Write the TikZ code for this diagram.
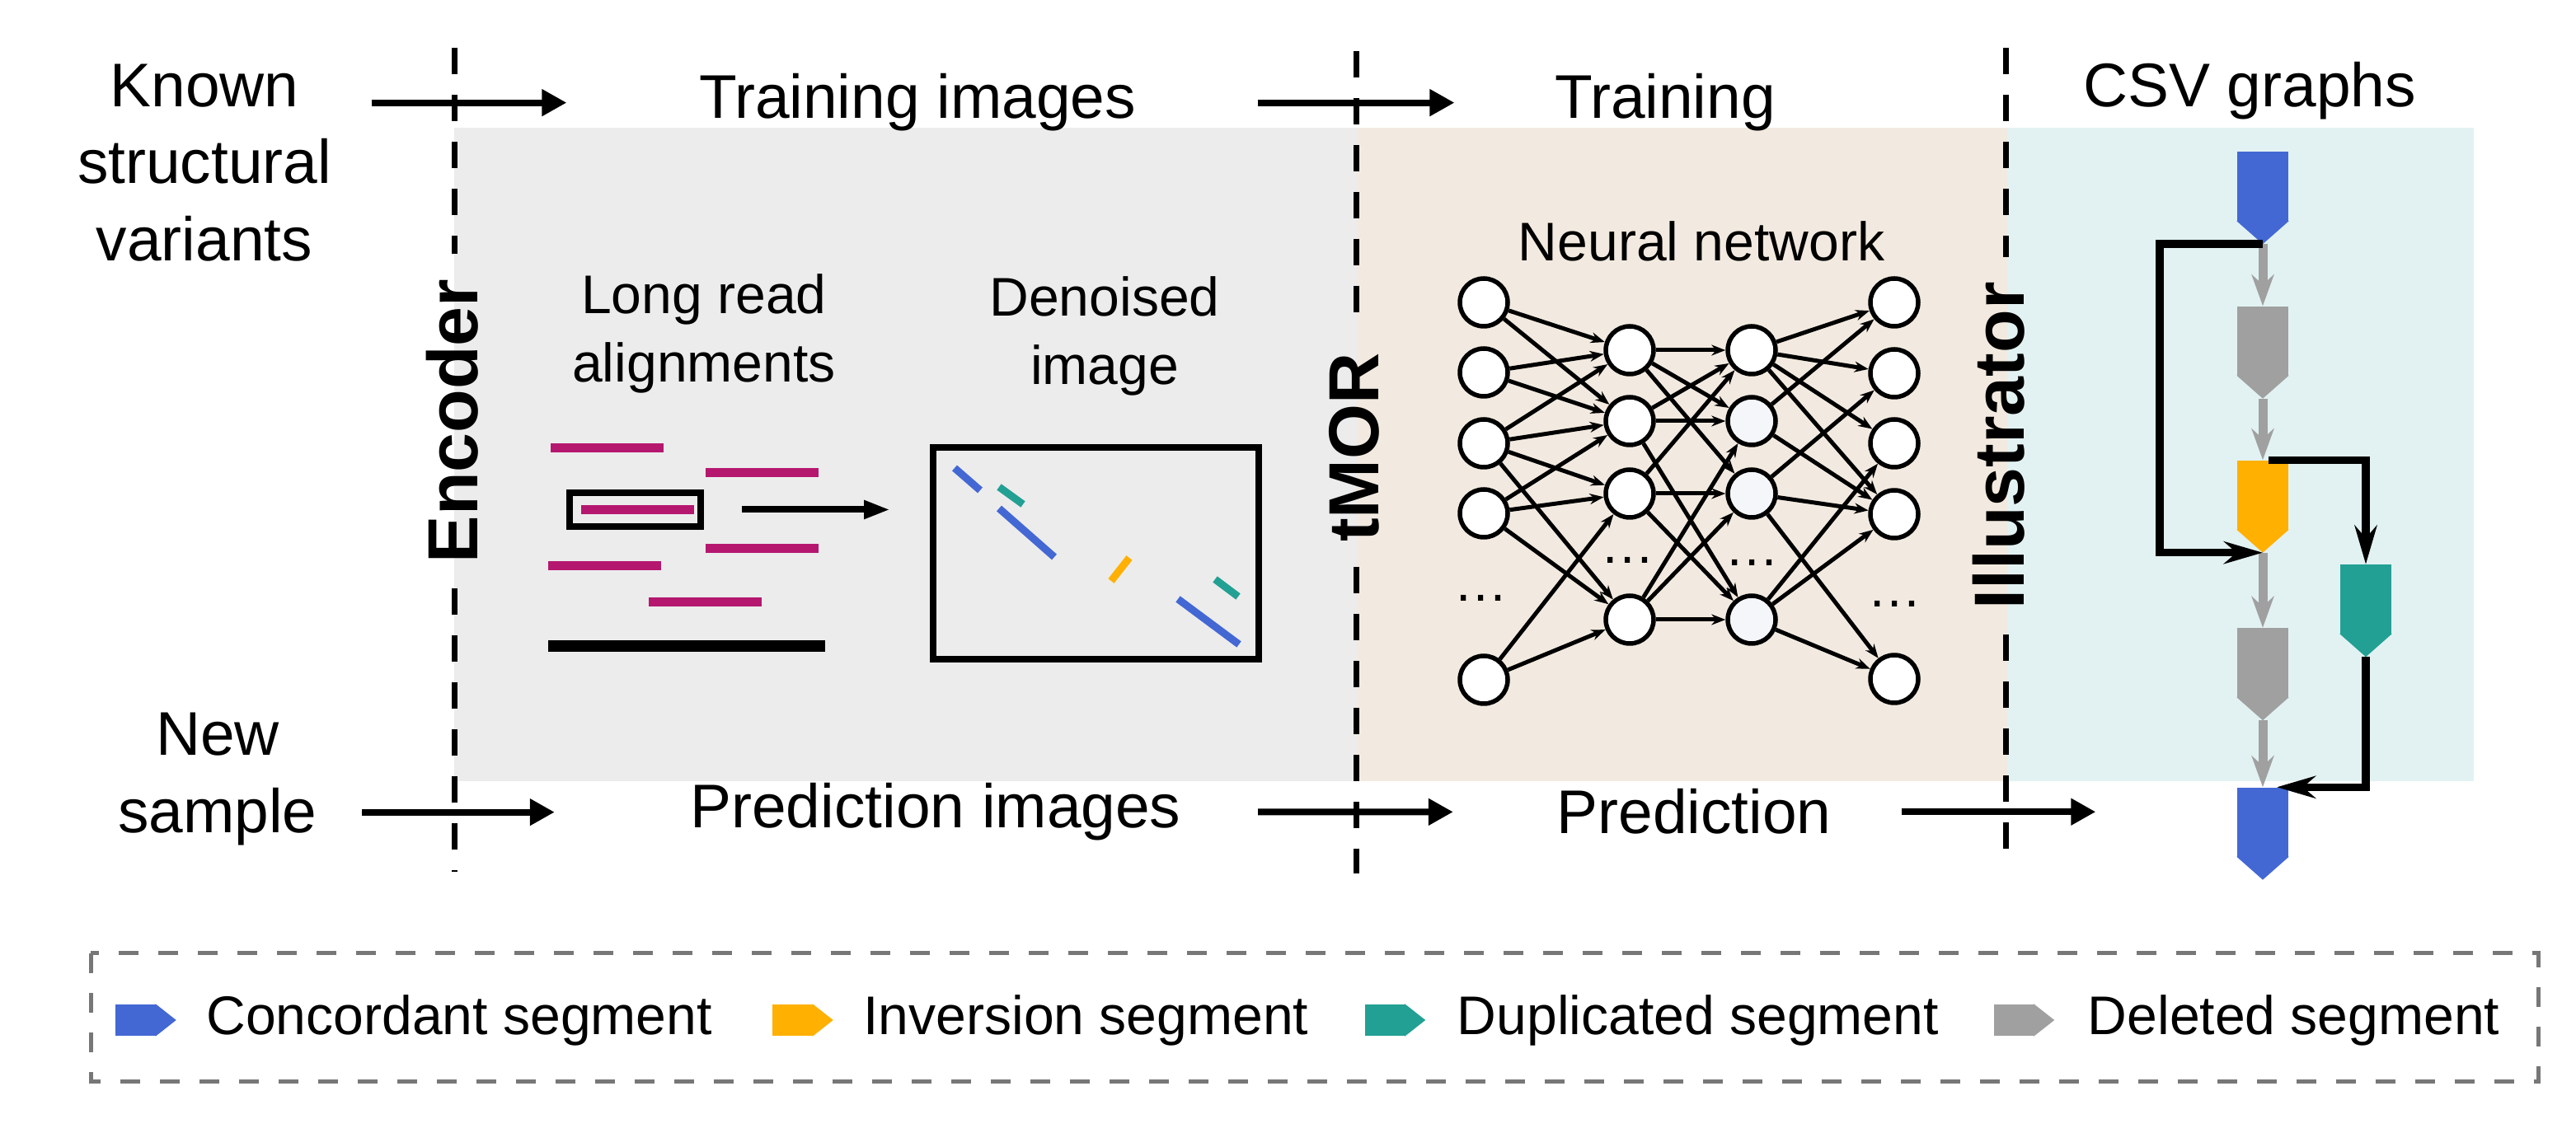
\documentclass[tikz,border=0pt]{standalone}
\usepackage{fontspec}
\setmainfont{Liberation Sans}
\usetikzlibrary{arrows.meta, positioning}

\definecolor{panelgray}{HTML}{ECECEC}
\definecolor{panelbeige}{HTML}{F2EAE0}
\definecolor{panelcyan}{HTML}{E2F2F2}
\definecolor{cblue}{HTML}{4368D4}
\definecolor{corange}{HTML}{FFB000}
\definecolor{cteal}{HTML}{22A094}
\definecolor{cgray}{HTML}{A0A0A0}
\definecolor{readcol}{HTML}{B5176F}
\definecolor{lightnode}{HTML}{F5F6FA}
\definecolor{boxgray}{HTML}{777777}

% segment with a point at the bottom (graph) or at the right (legend)
\newcommand{\segdown}[3]{%
  \node (#1) [segbody, fill=#3] at (#2) {};
  \fill[#3] ([yshift=0.01cm]#1.south west) -- ([yshift=0.01cm]#1.south east) -- ([yshift=-0.27cm]#1.south) -- cycle;
  \coordinate (#1-tip) at ([yshift=-0.27cm]#1.south);}
\newcommand{\segright}[3]{%
  \node (#1) [legbody, fill=#3] at (#2) {};
  \fill[#3] ([xshift=-0.01cm]#1.north east) -- ([xshift=0.24cm]#1.east) -- ([xshift=-0.01cm]#1.south east) -- cycle;
  \coordinate (#1-tip) at ([xshift=0.24cm]#1.east);}

\begin{document}
\begin{tikzpicture}[
  lbl/.style={font=\fontsize{21.3}{26.7}\selectfont, inner sep=0pt, align=center},
  sublbl/.style={font=\fontsize{18.8}{23.6}\selectfont, inner sep=0pt, align=center},
  stage/.style={font=\fontsize{24.5}{29}\selectfont\bfseries, rotate=90, inner sep=0pt, inner xsep=0.3cm},
  divider/.style={line width=0.07cm, dash pattern=on 0.32cm off 0.25cm},
  flow/.style={line width=0.08cm, -{Triangle[length=0.30cm, width=0.31cm]}},
  smallflow/.style={line width=0.08cm, -{Triangle[length=0.32cm, width=0.21cm]}},
  neuron/.style={circle, draw, line width=0.055cm, fill=white, minimum size=0.58cm, inner sep=0pt},
  synapse/.style={line width=0.05cm, -{Stealth[length=0.17cm, width=0.13cm]}},
  segbody/.style={rectangle, inner sep=0pt, minimum width=0.62cm, minimum height=0.84cm},
  legbody/.style={rectangle, inner sep=0pt, minimum width=0.49cm, minimum height=0.38cm},
  csvstep/.style={cgray, line width=0.11cm, -{Stealth[length=0.38cm, width=0.27cm]}},
  csvlink/.style={line width=0.095cm, -{Stealth[length=0.47cm, width=0.27cm]}},
  legtext/.style={font=\fontsize{18.8}{22}\selectfont, inner sep=0pt}]

\useasboundingbox (0,0) rectangle (31.25,-13.75);

% Panels
\fill[panelgray] (5.51,-1.55) rectangle (16.46,-9.48);
\fill[panelbeige] (16.46,-1.55) rectangle (24.35,-9.48);
\fill[panelcyan] (24.35,-1.55) rectangle (30.01,-9.48);

% Labels
\node (known) [lbl] at (2.48,-1.975) {Known\\structural\\variants};
\node (newsample) [lbl] at (2.64,-9.455) {New\\sample};
\node (trainimg) [lbl, anchor=base] at (11.13,-1.44) {Training images};
\node (predimg) [lbl, anchor=base] at (11.35,-10.05) {Prediction images};
\node (training) [lbl, anchor=base] at (20.20,-1.44) {Training};
\node (prediction) [lbl, anchor=base] at (20.55,-10.12) {Prediction};
\node (csv) [lbl, anchor=base] at (27.29,-1.30) {CSV graphs};
\node (longread) [sublbl] at (8.54,-4.045) {Long read\\alignments};
\node (denoised) [sublbl] at (13.40,-4.075) {Denoised\\image};
\node (neural) [sublbl, anchor=base] at (20.64,-3.17) {Neural network};

% Stages
\node (enc) [stage] at (5.49,-5.11) {Encoder};
\node (tmor) [stage] at (16.43,-5.43) {tMOR};
\node (illus) [stage] at (24.25,-5.41) {Illustrator};
\coordinate (encTop) at (5.51,-0.58);
\coordinate (encBot) at (5.51,-10.58);
\coordinate (tmorTop) at (16.45,-0.62);
\coordinate (tmorBot) at (16.45,-10.60);
\coordinate (illusTop) at (24.33,-0.58);
\coordinate (illusBot) at (24.33,-10.40);

\draw[divider] (encTop) -- (encTop |- enc.east);
\draw[divider] (encTop |- enc.west) -- (encBot);
\draw[divider] (tmorTop) -- (tmorTop |- tmor.east);
\draw[divider] (tmorTop |- tmor.west) -- (tmorBot);
\draw[divider] (illusTop) -- (illusTop |- illus.east);
\draw[divider] (illusTop |- illus.west) -- (illusBot);

% Encoder
\fill[readcol] (6.68,-5.38) rectangle ++(1.37,-0.11);
\fill[readcol] (8.56,-5.68) rectangle ++(1.37,-0.11);
\fill[readcol] (7.05,-6.13) rectangle ++(1.37,-0.11);
\fill[readcol] (8.56,-6.60) rectangle ++(1.37,-0.11);
\fill[readcol] (6.65,-6.81) rectangle ++(1.37,-0.11);
\fill[readcol] (7.87,-7.25) rectangle ++(1.37,-0.11);
\fill (6.65,-7.77) rectangle (10.01,-7.91);

\node (sel) [draw, line width=0.075cm, minimum width=1.59cm, minimum height=0.41cm, inner sep=0pt] at (7.705,-6.185) {};
\node (dimg) [draw, line width=0.08cm, minimum width=3.95cm, minimum height=2.57cm, inner sep=0pt] at (13.295,-6.715) {};
\draw[smallflow, shorten <=0.46cm, shorten >=0.48cm] (sel) -- (sel -| dimg.west);

\draw[cblue, line width=0.09cm] (11.58,-5.68) -- (11.89,-5.95);
\draw[cteal, line width=0.09cm] (12.12,-5.91) -- (12.41,-6.12);
\draw[cblue, line width=0.09cm] (12.12,-6.17) -- (12.79,-6.76);
\draw[corange, line width=0.09cm] (13.48,-7.05) -- (13.70,-6.77);
\draw[cteal, line width=0.09cm] (14.74,-7.03) -- (15.02,-7.24);
\draw[cblue, line width=0.09cm] (14.29,-7.27) -- (15.03,-7.82);

% Neural network
\node (i1) [neuron] at (18.00,-3.67) {};
\node (i2) [neuron] at (18.00,-4.52) {};
\node (i3) [neuron] at (18.00,-5.38) {};
\node (i4) [neuron] at (18.00,-6.23) {};
\node (i5) [neuron] at (18.00,-8.25) {};
\node (h1) [neuron] at (19.77,-4.25) {};
\node (h2) [neuron] at (19.77,-5.11) {};
\node (h3) [neuron] at (19.77,-5.99) {};
\node (h4) [neuron] at (19.77,-7.52) {};
\node (g1) [neuron] at (21.25,-4.25) {};
\node (g2) [neuron, fill=lightnode] at (21.25,-5.11) {};
\node (g3) [neuron, fill=lightnode] at (21.25,-5.99) {};
\node (g4) [neuron, fill=lightnode] at (21.25,-7.52) {};
\node (o1) [neuron] at (22.98,-3.67) {};
\node (o2) [neuron] at (22.98,-4.53) {};
\node (o3) [neuron] at (22.98,-5.38) {};
\node (o4) [neuron] at (22.98,-6.24) {};
\node (o5) [neuron] at (22.98,-8.24) {};
\node (idots) [sublbl, anchor=base] at (17.97,-7.30) {…};
\node (hdots) [sublbl, anchor=base] at (19.75,-6.84) {…};
\node (gdots) [sublbl, anchor=base] at (21.26,-6.87) {…};
\node (odots) [sublbl, anchor=base] at (22.99,-7.37) {…};

\draw[synapse] (i1) -- (h1); \draw[synapse] (i1) -- (h2);
\draw[synapse] (i2) -- (h1); \draw[synapse] (i2) -- (h2);
\draw[synapse] (i3) -- (h1); \draw[synapse] (i3) -- (h2);
\draw[synapse] (i3) -- (h3); \draw[synapse] (i3) -- (h4);
\draw[synapse] (i4) -- (h2); \draw[synapse] (i4) -- (h3); \draw[synapse] (i4) -- (h4);
\draw[synapse] (i5) -- (h3); \draw[synapse] (i5) -- (h4);

\draw[synapse] (h1) -- (g1); \draw[synapse] (h1) -- (g2); \draw[synapse] (h1) -- (g3);
\draw[synapse] (h2) -- (g1); \draw[synapse] (h2) -- (g2); \draw[synapse] (h2) -- (g4);
\draw[synapse] (h3) -- (g1); \draw[synapse] (h3) -- (g3); \draw[synapse] (h3) -- (g4);
\draw[synapse] (h4) -- (g2); \draw[synapse] (h4) -- (g3); \draw[synapse] (h4) -- (g4);

\draw[synapse] (g1) -- (o1); \draw[synapse] (g1) -- (o2);
\draw[synapse] (g1) -- (o3); \draw[synapse] (g1) -- (o4);
\draw[synapse] (g2) -- (o1); \draw[synapse] (g2) -- (o4);
\draw[synapse] (g3) -- (o2); \draw[synapse] (g3) -- (o4); \draw[synapse] (g3) -- (o5);
\draw[synapse] (g4) -- (o3); \draw[synapse] (g4) -- (o4); \draw[synapse] (g4) -- (o5);

% CSV graph
\segdown{s1}{27.45,-2.265}{cblue}
\segdown{s2}{27.45,-4.14}{cgray}
\segdown{s3}{27.45,-6.01}{corange}
\segdown{s4}{27.45,-8.045}{cgray}
\segdown{s5}{27.45,-9.98}{cblue}
\segdown{s6}{28.70,-7.275}{cteal}

\draw[csvstep] (s1-tip) -- (s2);
\draw[csvstep] (s2-tip) -- (s3);
\draw[csvstep] (s3-tip) -- (s4);
\draw[csvstep] (s4-tip) -- (s5);

\draw[csvlink] (s1-tip) -- ++(-1.25,0) |- (s3-tip);
\draw[csvlink] ([xshift=0.07cm]s3.north) -| (s6);
\draw[csvlink] (s6-tip) |- ([xshift=0.17cm]s5.north);

% Flow
\draw[flow, shorten <=0.48cm, shorten >=1.60cm] (known.east |- trainimg) -- (trainimg);
\draw[flow, shorten <=1.47cm, shorten >=1.21cm] (trainimg) -- (training);
\draw[flow, shorten <=0.54cm, shorten >=1.64cm] (newsample.east |- predimg) -- (predimg);
\draw[flow, shorten <=0.93cm, shorten >=1.25cm] (predimg) -- (prediction);
\draw[flow, shorten <=0.85cm, shorten >=1.71cm] (prediction) -- (prediction -| s5.west);

% Legend
\draw[boxgray, line width=0.05cm, dash pattern=on 0.24cm off 0.24cm] (1.10,-11.57) rectangle (30.79,-13.13);
\segright{legC}{1.645,-12.38}{cblue}
\segright{legI}{9.615,-12.38}{corange}
\segright{legD}{16.80,-12.38}{cteal}
\segright{legX}{24.43,-12.38}{cgray}
\node (legCt) [legtext, right=0.36cm of legC-tip] {Concordant segment};
\node (legIt) [legtext, right=0.36cm of legI-tip] {Inversion segment};
\node (legDt) [legtext, right=0.38cm of legD-tip] {Duplicated segment};
\node (legXt) [legtext, right=0.40cm of legX-tip] {Deleted segment};

\end{tikzpicture}
\end{document}
